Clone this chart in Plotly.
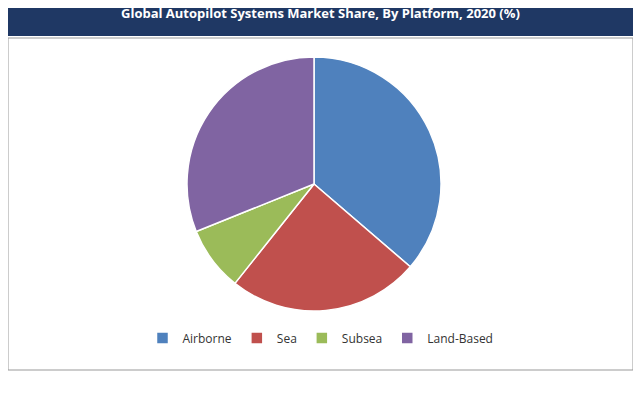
import plotly.graph_objects as go

labels = ["Airborne", "Sea", "Subsea", "Land-Based"]
values = [36.3, 24.4, 8.2, 31.1]
colors = ["#4f81bd", "#c0504d", "#9bbb59", "#8064a2"]

O = 8
W, H = 641 - 2 * O, 407 - 2 * O
def py(y):
    return 1 - (y - O) / H
def px(x):
    return (x - O) / W

fig = go.Figure(go.Pie(
    labels=labels, values=values, sort=False, direction="clockwise", rotation=0,
    marker=dict(colors=colors, line=dict(color="white", width=1.5)),
    textinfo="none", hoverinfo="label+percent",
    domain=dict(x=[px(187), px(441)], y=[py(311), py(57)]),
))
fig.update_layout(
    width=W, height=H, margin=dict(l=0, r=0, t=0, b=0),
    paper_bgcolor="white", plot_bgcolor="white",
    showlegend=True,
    legend=dict(orientation="h", x=0.5, xanchor="center", y=py(338), yanchor="middle",
                itemwidth=30, font=dict(family="Open Sans", size=12, color="#333")),
    shapes=[
        dict(type="rect", xref="paper", yref="paper", x0=0, x1=1, y0=py(36), y1=1,
             fillcolor="#1f3864", line=dict(width=0), layer="below"),
        dict(type="rect", xref="paper", yref="paper", x0=0, x1=1, y0=py(370), y1=py(38),
             fillcolor="rgba(0,0,0,0)", line=dict(color="#999", width=1)),
    ],
    annotations=[dict(text="<b>Global Autopilot Systems Market Share, By Platform, 2020 (%)</b>",
                      xref="paper", yref="paper", x=px(320), y=py(13), yanchor="middle",
                      showarrow=False,
                      font=dict(family="Open Sans", size=13, color="white"))],
)
fig.write_html("out.html")
